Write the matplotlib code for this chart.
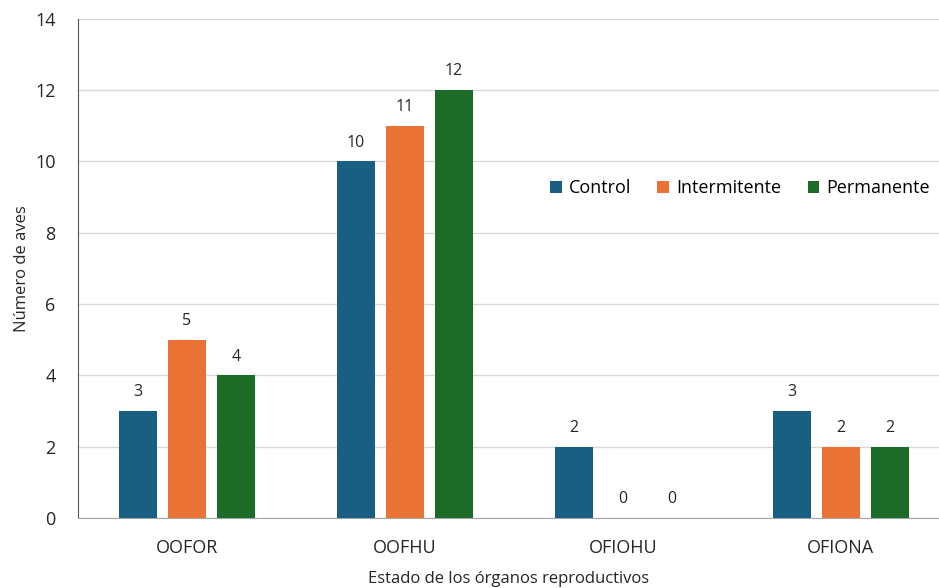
import numpy as np
import matplotlib
matplotlib.use('Agg')
import matplotlib.pyplot as plt

plt.rcParams['font.family'] = ['Open Sans', 'DejaVu Sans']

categories = ['OOFOR', 'OOFHU', 'OFIOHU', 'OFIONA']
series_names = ['Control', 'Intermitente', 'Permanente']
control = [3, 10, 2, 3]
intermitente = [5, 11, 0, 2]
permanente = [4, 12, 0, 2]

COLOURS = ['#185f83', '#ea7235', '#1c6b26']

fig = plt.figure(figsize=(9.39, 5.88), dpi=100)
ax = fig.add_axes([0.083, 0.119, 0.917, 0.849])

x = np.arange(len(categories))
width = 0.174
offsets = [-0.225, 0.0, 0.225]
for vals, off, col, name in zip([control, intermitente, permanente], offsets, COLOURS, series_names):
    bars = ax.bar(x + off, vals, width, color=col, label=name, zorder=3)
    for b, v in zip(bars, vals):
        ax.text(b.get_x() + b.get_width() / 2, v + 0.3, str(v), ha='center', va='bottom',
                fontsize=11.5, color='#262626')

ax.set_xlim(-0.5, 3.45)
ax.set_ylim(0, 14)
ax.set_yticks(range(0, 15, 2))
ax.set_xticks(x)
ax.set_xticklabels(categories)
ax.tick_params(axis='both', length=0, labelsize=13, colors='#262626')
ax.tick_params(axis='y', pad=16)
ax.tick_params(axis='x', pad=15)
ax.grid(axis='y', color='#d9d9d9', linewidth=1, zorder=0)
for s in ['top', 'right']:
    ax.spines[s].set_visible(False)
ax.spines['left'].set_color('#595959')
ax.spines['bottom'].set_color('#a6a6a6')

ax.set_ylabel('Número de aves', fontsize=12, color='#262626', labelpad=4)
ax.set_xlabel('Estado de los órganos reproductivos', fontsize=12, color='#262626', labelpad=10)

ax.legend(loc='center left', bbox_to_anchor=(0.548, 0.661), ncol=3, frameon=False, fontsize=13,
          handlelength=0.65, handleheight=0.65, handletextpad=0.4, columnspacing=1.45,
          borderaxespad=0, borderpad=0)

fig.savefig('out.png', dpi=100)
